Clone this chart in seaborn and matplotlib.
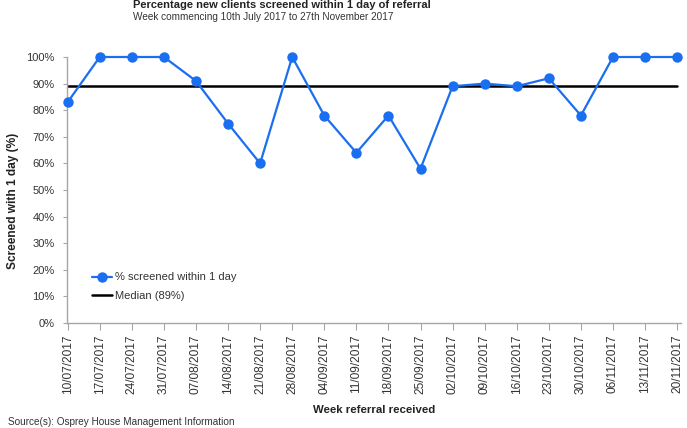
import numpy as np
import pandas as pd
import matplotlib
matplotlib.use("Agg")
import matplotlib.pyplot as plt
import seaborn as sns
from matplotlib.ticker import PercentFormatter

# data
weeks = ["10/07/2017", "17/07/2017", "24/07/2017", "31/07/2017", "07/08/2017",
         "14/08/2017", "21/08/2017", "28/08/2017", "04/09/2017", "11/09/2017",
         "18/09/2017", "25/09/2017", "02/10/2017", "09/10/2017", "16/10/2017",
         "23/10/2017", "30/10/2017", "06/11/2017", "13/11/2017", "20/11/2017"]
screened = [83, 100, 100, 100, 91, 75, 60, 100, 78, 64,
            78, 58, 89, 90, 89, 92, 78, 100, 100, 100]
median_val = 89

sns.set_theme(style="white")
plt.rcParams['font.family'] = ['Liberation Sans', 'DejaVu Sans']

df = pd.DataFrame({"pos": np.arange(len(weeks)), "week": weeks, "pct": screened})
df["median"] = median_val

fig = plt.figure(figsize=(6.87, 4.28), dpi=100)
ax = fig.add_axes([67 / 687, 1 - 323 / 428, (681 - 67) / 687, (323 - 57) / 428])

blue = "#1a6ff0"
sns.lineplot(data=df, x="pos", y="pct", ax=ax, color=blue, linewidth=1.6,
             marker="o", markersize=7.5, markeredgewidth=0,
             label="% screened within 1 day", clip_on=False, zorder=3)
sns.lineplot(data=df, x="pos", y="median", ax=ax, color="black", linewidth=1.8,
             label="Median (89%)", zorder=2)

ax.set_xlim(-0.02, len(weeks) - 1 + 0.12)
ax.set_ylim(0, 100)
ax.set_yticks(np.arange(0, 101, 10))
ax.yaxis.set_major_formatter(PercentFormatter(decimals=0))
ax.set_xticks(df["pos"])
ax.set_xticklabels(weeks, rotation=90)

for side in ["top", "right"]:
    ax.spines[side].set_visible(False)
for side in ["left", "bottom"]:
    ax.spines[side].set_color("#a6a6a6")
    ax.spines[side].set_linewidth(1.0)

ax.tick_params(axis="x", which="major", direction="out", length=5, width=0.8,
               color="#a6a6a6", labelsize=8.6, labelcolor="#333333", pad=3,
               bottom=True)
ax.tick_params(axis="y", which="major", direction="out", length=3, width=0.8,
               color="#a6a6a6", labelsize=8, labelcolor="#333333", pad=6,
               left=True)

ax.set_xlabel("Week referral received", fontsize=8.2, fontweight="bold",
              color="#222222", labelpad=8)
ax.set_ylabel("Screened with 1 day (%)", fontsize=8.6, fontweight="bold",
              color="#222222")
ax.yaxis.set_label_coords(-0.078, 0.46)

leg = ax.legend(loc="upper left", bbox_to_anchor=(88 / 687, 1 - 268 / 428),
                bbox_transform=fig.transFigure, frameon=False, fontsize=8,
                handlelength=1.8, handletextpad=0.2, labelspacing=0.8,
                borderaxespad=0)
for t in leg.get_texts():
    t.set_color("#333333")

fig.text(133 / 687, 1 - 5 / 428, "Percentage new clients screened within 1 day of referral",
         fontsize=8, fontweight="bold", color="#222222", ha="left", va="center")
fig.text(133 / 687, 1 - 17 / 428, "Week commencing 10th July 2017 to 27th November 2017",
         fontsize=7.2, color="#333333", ha="left", va="center")
fig.text(8 / 687, 1 - 422 / 428, "Source(s): Osprey House Management Information",
         fontsize=7.2, color="#333333", ha="left", va="center")

fig.savefig("out.png", dpi=100)
